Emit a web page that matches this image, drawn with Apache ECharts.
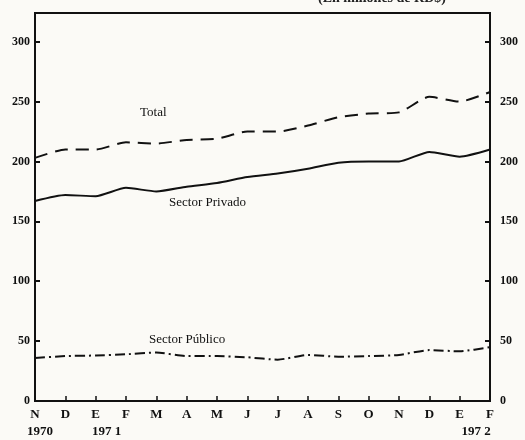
<!DOCTYPE html>
<html>
<head>
<meta charset="utf-8">
<script src="https://cdn.jsdelivr.net/npm/echarts@6/dist/echarts.min.js"></script>
<style>
  html, body { margin: 0; padding: 0; background: #fbfaf6; }
  #myChart { width: 525px; height: 440px; }
</style>
</head>
<body>
<div id="myChart"></div>
<script>
// meses: nov 1970 .. feb 1972
var months = ['N', 'D', 'E', 'F', 'M', 'A', 'M', 'J', 'J', 'A', 'S', 'O', 'N', 'D', 'E', 'F'];
var years = {0: '1970', 2: '197 1', 15: '197 2'};

// valores en millones de RD$
var total = [203, 210, 210, 216, 215, 218, 219, 225, 225, 230, 237, 240, 241, 254, 250, 258];
var privado = [167, 172, 171, 178, 175, 179, 182, 187, 190, 194, 199, 200, 200, 208, 204, 210];
var publico = [36, 37.5, 38, 39, 40.5, 37.5, 37.5, 36.5, 34.5, 38.5, 37, 37.5, 38.5, 42.5, 41.5, 45];

var yTicks = [0, 50, 100, 150, 200, 250, 300];

var font = '"Liberation Serif", "DejaVu Serif", serif';

var categories = months.map(function (m, i) {
    return years[i] ? m + '\n' + years[i] : m;
});

var myChart = echarts.init(document.getElementById('myChart'), null, {renderer: 'canvas'});

function yLabel(v) {
    return yTicks.indexOf(v) >= 0 ? String(v) : '';
}

var yBase = {
    type: 'value',
    min: 0,
    max: 324,
    interval: 50,
    splitLine: {show: false},
    axisLine: {show: true, lineStyle: {color: '#111', width: 2}},
    axisTick: {show: true, inside: true, length: 5, lineStyle: {color: '#111', width: 2}}
};

var lbl = {fontSize: 13, fontWeight: 'bold', color: '#111', fontFamily: font};

myChart.setOption({
    backgroundColor: '#fbfaf6',
    animation: false,
    textStyle: {fontFamily: font},
    grid: {
        left: 35, right: 35, top: 13, bottom: 36,
        show: true, borderColor: '#111', borderWidth: 2, backgroundColor: 'transparent'
    },
    xAxis: {
        type: 'category',
        data: categories,
        boundaryGap: false,
        axisLine: {lineStyle: {color: '#111', width: 2}},
        axisTick: {inside: true, length: 5, alignWithLabel: true, lineStyle: {color: '#111', width: 1.5}},
        axisLabel: {
            color: '#111', fontSize: 13, fontWeight: 'bold', margin: 5, lineHeight: 17,
            interval: 0,
            formatter: function (v, i) {
                var parts = v.split('\n');
                if (parts.length === 1) return '{m|' + parts[0] + '}';
                var key = i === 0 ? 'y0' : (i === 2 ? 'y1' : 'y2');
                return '{m|' + parts[0] + '}\n{' + key + '|' + parts[1] + '}';
            },
            rich: {
                m: lbl,
                y0: Object.assign({}, lbl, {padding: [0, 0, 0, 10]}),
                y1: Object.assign({}, lbl, {padding: [0, 0, 0, 22]}),
                y2: Object.assign({}, lbl, {padding: [0, 28, 0, 0]})
            }
        }
    },
    yAxis: [
        Object.assign({}, yBase, {
            position: 'left',
            axisLabel: {color: '#111', fontSize: 12, fontWeight: 'bold', margin: 5, formatter: yLabel}
        }),
        Object.assign({}, yBase, {
            position: 'right',
            axisLabel: {color: '#111', fontSize: 12, fontWeight: 'bold', margin: 10, formatter: yLabel}
        })
    ],
    series: [
        {
            name: 'Total', type: 'line', data: total, symbol: 'none', smooth: 0.2,
            lineStyle: {color: '#111', width: 2, type: [13, 8]}
        },
        {
            name: 'Sector Privado', type: 'line', data: privado, symbol: 'none', smooth: 0.2,
            lineStyle: {color: '#111', width: 2, type: 'solid'}
        },
        {
            name: 'Sector Público', type: 'line', data: publico, symbol: 'none', smooth: 0.2,
            lineStyle: {color: '#111', width: 2, type: [10, 4, 2, 4]}
        }
    ],
    graphic: [
        {type: 'text', left: 318, top: -9, style: {text: '(En millones de RD$)', font: 'bold 14px ' + font, fill: '#222'}},
        {type: 'text', left: 140, top: 106, style: {text: 'Total', font: '13px ' + font, fill: '#111'}},
        {type: 'text', left: 169, top: 196, style: {text: 'Sector Privado', font: '13px ' + font, fill: '#111'}},
        {type: 'text', left: 149, top: 333, style: {text: 'Sector Público', font: '13px ' + font, fill: '#111'}}
    ]
});
</script>
</body>
</html>
